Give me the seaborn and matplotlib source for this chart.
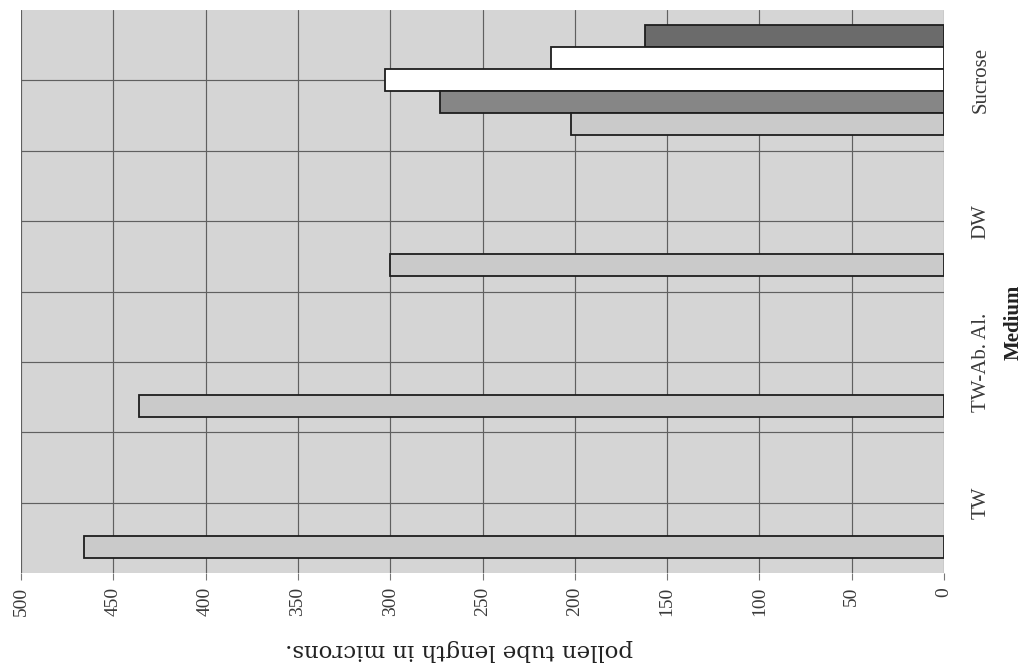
import numpy as np
import pandas as pd
import seaborn as sns
import matplotlib.pyplot as plt
from matplotlib.font_manager import FontProperties

# values (pollen tube length, microns)
medium = ["Sucrose", "DW", "TW-Ab. Al.", "TW"]
series_1 = [202, 300, 436, 466]
series_2 = [273, np.nan, np.nan, np.nan]
series_3 = [303, np.nan, np.nan, np.nan]
series_4 = [213, np.nan, np.nan, np.nan]
series_5 = [162, np.nan, np.nan, np.nan]
value_ticks = [0, 50, 100, 150, 200, 250, 300, 350, 400, 450, 500]

rows = []
for name, vals in [("s1", series_1), ("s2", series_2), ("s3", series_3),
                   ("s4", series_4), ("s5", series_5)]:
    for m, v in zip(medium, vals):
        rows.append({"medium": m, "series": name, "length": v})
df = pd.DataFrame(rows)

sns.set_style("white")
plt.rcParams['font.family'] = ['Liberation Serif', 'DejaVu Serif']

fig = plt.figure(figsize=(10.27, 6.66), dpi=100)
ax = fig.add_axes([21 / 1027, 1 - 573 / 666, 923 / 1027, 563 / 666])
ax.set_facecolor('#d5d5d5')

colors = {"s1": '#cacaca', "s2": '#868686', "s3": '#ffffff',
          "s4": '#ffffff', "s5": '#6b6b6b'}
sns.barplot(data=df, x="length", y="medium", hue="series", order=medium,
            hue_order=["s5", "s4", "s3", "s2", "s1"], palette=colors,
            orient='h', width=0.78, errorbar=None, edgecolor='#1e1e1e',
            linewidth=1.3, legend=False, ax=ax, zorder=3)

tick_font = FontProperties(family='Liberation Serif', size=14)
cat_font = FontProperties(family='Liberation Serif', size=15)

ax.set_xlim(500, 0)
ax.set_ylim(3.5, -0.5)
ax.set_xticks(value_ticks)
ax.set_xticklabels([str(v) for v in value_ticks], rotation=90,
                   fontproperties=tick_font)
ax.tick_params(axis='x', length=5, width=0.8, color='#777777', pad=5,
               labelcolor='#3a3a3a', bottom=True)

ax.yaxis.tick_right()
ax.set_yticks(range(len(medium)))
ax.set_yticklabels(medium, rotation=90, va='center', fontproperties=cat_font)
ax.set_yticks([0.5, 1.5, 2.5], minor=True)
ax.tick_params(axis='y', which='both', length=0, pad=20,
               labelcolor='#3a3a3a')

ax.grid(True, axis='x', color='#606060', linewidth=0.85)
ax.grid(True, axis='y', which='both', color='#606060', linewidth=0.85)
ax.set_axisbelow(True)
for s in ax.spines.values():
    s.set_visible(False)

ax.set_xlabel("pollen tube length in microns.", rotation=180,
              fontproperties=FontProperties(family='DejaVu Serif', size=16.5),
              color='#222222', va='center')
ax.xaxis.set_label_coords(0.4745, -0.137)
ax.yaxis.set_label_position('right')
ax.set_ylabel("Medium", rotation=90,
              fontproperties=FontProperties(family='Liberation Serif',
                                            size=15, weight='bold'),
              color='#222222', va='center')
ax.yaxis.set_label_coords(1.0758, 0.446)

fig.savefig("out.png", dpi=100)
